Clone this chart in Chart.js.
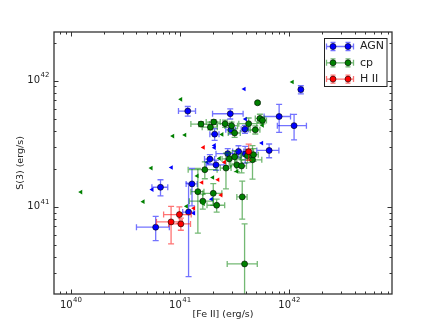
<!DOCTYPE html>
<html><head><meta charset="utf-8">
<script src="https://cdn.jsdelivr.net/npm/chart.js@4/dist/chart.umd.min.js"></script>
<style>html,body{margin:0;padding:0;background:#fff}canvas{display:block}</style>
</head><body>
<canvas id="c" width="436" height="327"></canvas>
<script>
// ---- data ----
const seriesNames = ['AGN', 'cp', 'H II'];
const xTitle = '[Fe II] (erg/s)';
const yTitle = 'S(3) (erg/s)';
const xTickExps = [40, 41, 42];
const yTickExps = [41, 42];

// AGN detections
const agnX  = [1.28e42, 1.18e41, 2.89e41, 8.1e41, 1.11e42, 2.93e41, 3.94e41, 2.08e41, 6.56e41, 3.44e41, 2.74e41, 3.96e41, 1.88e41, 2.14e41, 1.29e41, 6.64e40, 6.0e40, 1.2e41];
const agnY  = [8.5e41, 5.74e41, 5.47e41, 5.2e41, 4.4e41, 4.08e41, 4.13e41, 3.77e41, 2.8e41, 2.75e41, 2.64e41, 2.62e41, 2.39e41, 2.15e41, 1.52e41, 1.43e41, 6.9e40, 9.1e40];
const agnDx = [5e40, 2.1e40, 9e40, 2.2e41, 3.3e41, 3e40, 3e40, 2e40, 1.5e41, 4e40, 6e40, 3e40, 2e40, 4e40, 1.5e40, 1.1e40, 2.0e40, 1.4e40];
const agnDy = [6.5e40, 5e40, 5e40, 1.3e41, 1.0e41, 3e40, 3e40, 4e40, 3.5e40, 3e40, 2.5e40, 4e40, 2e40, 2e40, 5e40, 2.1e40, 1.5e40, 6.3e40];
// AGN upper limits
const agnLimX = [3.88e41, 3.99e41, 2.07e41, 2.07e41, 5.62e41, 8.36e40, 5.57e40, 1.95e41, 1.34e41, 1.78e41];
const agnLimY = [8.59e41, 4.96e41, 3.07e41, 2.94e41, 3.2e41, 2.05e41, 1.37e41, 1.15e41, 8.91e40, 2.26e41];

// cp detections
const cpX  = [5.14e41, 1.56e41, 2.04e41, 1.9e41, 2.59e41, 2.97e41, 3.17e41, 4.26e41, 4.9e41, 5.4e41, 5.7e41, 1.69e41, 2.64e41, 2.83e41, 3.17e41, 3.32e41, 3.67e41, 4.16e41, 4.62e41, 4.72e41, 1.46e41, 2.02e41, 1.62e41, 2.17e41, 3.72e41, 3.91e41];
const cpY  = [6.68e41, 4.53e41, 4.7e41, 4.28e41, 4.56e41, 4.4e41, 3.85e41, 4.56e41, 4.08e41, 5.02e41, 4.84e41, 1.97e41, 2.03e41, 2.4e41, 2.49e41, 2.15e41, 2.11e41, 2.54e41, 2.36e41, 2.59e41, 1.32e41, 1.28e41, 1.11e41, 1.03e41, 1.2e41, 3.53e40];
const cpDx = [1e40, 3e40, 3e40, 3e40, 4e40, 4e40, 4e40, 8e40, 5e40, 5e40, 5e40, 5e40, 3e40, 4e40, 4e40, 4e40, 4e40, 5e40, 1e41, 5e40, 2e40, 4e40, 4e40, 4e40, 4e40, 1.2e41];
const cpDy = [1.5e40, 2e40, 2e40, 2e40, 3e40, 3e40, 3e40, 5e40, 3e40, 4e40, 3e40, 3e40, 6.4e40, 3e40, 3e40, 2.5e40, 2.5e40, 3e40, 7e40, 3e40, 7e40, 2.5e40, 1.5e40, 1.2e40, 4e40, 3.8e40];
// cp upper limits
const cpLimX = [1.07e42, 1.02e41, 1.11e41, 8.61e40, 5.46e40, 1.24e40, 4.61e40, 1.15e41, 2.43e41, 5.7e41, 1.44e41, 2.0e41, 2.3e41, 3.33e41, 1.64e41];
const cpLimY = [9.76e41, 7.11e41, 3.71e41, 3.64e41, 2.03e41, 1.31e41, 1.1e41, 1.01e41, 3.75e41, 4.43e41, 1.76e41, 1.71e41, 2.42e41, 1.91e41, 1.06e41];

// H II detections
const hiiX  = [4.26e41, 9.89e40, 8.3e40, 1.02e41];
const hiiY  = [2.74e41, 8.69e40, 7.6e40, 7.33e40];
const hiiDx = [2e40, 2.8e40, 2.2e40, 2.3e40];
const hiiDy = [4e40, 1.3e40, 2.5e40, 8e39];
// H II upper limits
const hiiLimX = [1.64e41, 1.59e41, 2.23e41, 2.38e41, 1.34e41, 2.56e41];
const hiiLimY = [2.96e41, 1.56e41, 1.64e41, 1.24e41, 9.75e40, 2.26e41];

const xMin = 7.03e39, xMax = 8.75e42;
const yMin = 2.04e40, yMax = 2.43e42;

// ---- build ----
const pts = (xs, ys) => xs.map((v, i) => ({x: v, y: ys[i]}));
const COL = {AGN: [0,0,255], cp: [0,128,0], HII: [255,0,0]};
const rgba = (c, a) => `rgba(${c[0]},${c[1]},${c[2]},${a})`;

function detDS(label, xs, ys, dx, dy, c, order) {
  return {label, data: pts(xs, ys), errX: dx, errY: dy, errColor: rgba(c, 0.55),
    pointStyle: 'circle', pointRadius: 3.0, backgroundColor: rgba(c, 1),
    borderColor: 'rgba(0,0,0,0.85)', borderWidth: 0.7, order};
}
function limDS(label, xs, ys, c, order) {
  return {label, data: pts(xs, ys), pointStyle: 'triangle', rotation: -90,
    pointRadius: 2.7, backgroundColor: rgba(c, 1), borderColor: rgba(c, 1), borderWidth: 0, order};
}

const datasets = [
  detDS('AGN', agnX, agnY, agnDx, agnDy, COL.AGN, 6),
  limDS('AGN lim', agnLimX, agnLimY, COL.AGN, 5),
  detDS('cp', cpX, cpY, cpDx, cpDy, COL.cp, 4),
  limDS('cp lim', cpLimX, cpLimY, COL.cp, 3),
  detDS('H II', hiiX, hiiY, hiiDx, hiiDy, COL.HII, 2),
  limDS('H II lim', hiiLimX, hiiLimY, COL.HII, 1),
];

const FONT = '"DejaVu Sans", sans-serif';
const TXT = '#222';

const errorBars = {
  id: 'errorBars',
  beforeDatasetDraw(chart, args) {
    const ds = chart.data.datasets[args.index];
    if (!ds.errX) return;
    const {ctx, chartArea: a, scales: {x, y}} = chart;
    ctx.save();
    ctx.beginPath(); ctx.rect(a.left, a.top, a.right - a.left, a.bottom - a.top); ctx.clip();
    ctx.strokeStyle = ds.errColor; ctx.lineWidth = 1.3;
    const cap = 3;
    ds.data.forEach((p, i) => {
      const px = x.getPixelForValue(p.x), py = y.getPixelForValue(p.y);
      const dx = ds.errX[i], dy = ds.errY[i];
      const xl = p.x - dx > 0 ? x.getPixelForValue(p.x - dx) : a.left - 10;
      const xr = x.getPixelForValue(p.x + dx);
      const yt = y.getPixelForValue(p.y + dy);
      const yb = p.y - dy > 0 ? y.getPixelForValue(p.y - dy) : a.bottom + 10;
      ctx.beginPath();
      ctx.moveTo(xl, py); ctx.lineTo(xr, py);
      ctx.moveTo(px, yt); ctx.lineTo(px, yb);
      ctx.moveTo(xl, py - cap); ctx.lineTo(xl, py + cap);
      ctx.moveTo(xr, py - cap); ctx.lineTo(xr, py + cap);
      ctx.moveTo(px - cap, yt); ctx.lineTo(px + cap, yt);
      ctx.moveTo(px - cap, yb); ctx.lineTo(px + cap, yb);
      ctx.stroke();
    });
    ctx.restore();
  }
};

function powLabel(ctx, exp, cx, cy, align) {
  ctx.font = `10px ${FONT}`;
  const wb = ctx.measureText('10').width;
  ctx.font = `7px ${FONT}`;
  const we = ctx.measureText(String(exp)).width;
  const w = wb + we;
  let left = align === 'center' ? cx - w / 2 : cx - w;
  ctx.textBaseline = 'middle'; ctx.textAlign = 'left';
  ctx.font = `10px ${FONT}`; ctx.fillText('10', left, cy);
  ctx.font = `7px ${FONT}`; ctx.fillText(String(exp), left + wb + 0.5, cy - 5);
}

const frame = {
  id: 'frame',
  afterDraw(chart) {
    const {ctx, chartArea: a, scales: {x, y}} = chart;
    ctx.save();
    ctx.strokeStyle = '#333'; ctx.lineWidth = 1;
    ctx.beginPath();
    for (let e = 39; e <= 43; e++) for (let m = 1; m < 10; m++) {
      const v = m * Math.pow(10, e);
      const L = m === 1 ? 4.5 : 2.5;
      if (v >= xMin && v <= xMax) {
        const p = Math.round(x.getPixelForValue(v)) + 0.5;
        ctx.moveTo(p, a.bottom); ctx.lineTo(p, a.bottom - L);
        ctx.moveTo(p, a.top); ctx.lineTo(p, a.top + L);
      }
      if (v >= yMin && v <= yMax) {
        const p = Math.round(y.getPixelForValue(v)) + 0.5;
        ctx.moveTo(a.left, p); ctx.lineTo(a.left + L, p);
        ctx.moveTo(a.right, p); ctx.lineTo(a.right - L, p);
      }
    }
    ctx.stroke();
    ctx.lineWidth = 1.3;
    ctx.strokeRect(a.left, a.top, a.right - a.left, a.bottom - a.top);
    ctx.fillStyle = TXT;
    xTickExps.forEach(e => powLabel(ctx, e, x.getPixelForValue(Math.pow(10, e)), a.bottom + 11, 'center'));
    yTickExps.forEach(e => powLabel(ctx, e, a.left - 5, y.getPixelForValue(Math.pow(10, e)), 'right'));
    ctx.font = `9.5px ${FONT}`; ctx.textAlign = 'center'; ctx.textBaseline = 'middle';
    ctx.fillText(xTitle, (a.left + a.right) / 2, 315);
    ctx.save(); ctx.translate(21, (a.top + a.bottom) / 2); ctx.rotate(-Math.PI / 2);
    ctx.fillText(yTitle, 0, 0); ctx.restore();
    // legend
    const bx = 324.5, by = 38.5, bw = 62.5, bh = 48;
    ctx.fillStyle = '#fff'; ctx.fillRect(bx, by, bw, bh);
    ctx.strokeStyle = '#222'; ctx.lineWidth = 1; ctx.strokeRect(bx, by, bw, bh);
    const cols = [COL.AGN, COL.cp, COL.HII];
    seriesNames.forEach((name, i) => {
      const ry = 46.5 + i * 16.3, c = cols[i];
      ctx.strokeStyle = rgba(c, 0.55); ctx.lineWidth = 1.3;
      ctx.beginPath();
      ctx.moveTo(326.5, ry); ctx.lineTo(353.5, ry);
      ctx.moveTo(326.5, ry - 3); ctx.lineTo(326.5, ry + 3);
      ctx.moveTo(353.5, ry - 3); ctx.lineTo(353.5, ry + 3);
      [333, 348].forEach(mx => {
        ctx.moveTo(mx, ry - 4); ctx.lineTo(mx, ry + 4);
        ctx.moveTo(mx - 2.5, ry - 4); ctx.lineTo(mx + 2.5, ry - 4);
        ctx.moveTo(mx - 2.5, ry + 4); ctx.lineTo(mx + 2.5, ry + 4);
      });
      ctx.stroke();
      [333, 348].forEach(mx => {
        ctx.beginPath(); ctx.arc(mx, ry, 3.0, 0, Math.PI * 2);
        ctx.fillStyle = rgba(c, 1); ctx.fill();
        ctx.strokeStyle = 'rgba(0,0,0,0.85)'; ctx.lineWidth = 0.7; ctx.stroke();
      });
      ctx.fillStyle = TXT; ctx.font = `11px ${FONT}`; ctx.textAlign = 'left'; ctx.textBaseline = 'middle';
      ctx.fillText(name, 360, ry);
    });
    ctx.restore();
  }
};

new Chart(document.getElementById('c'), {
  type: 'scatter',
  data: {datasets},
  options: {
    responsive: false, animation: false, devicePixelRatio: 1, events: [],
    layout: {padding: {left: 54, right: 44, top: 32, bottom: 33}},
    plugins: {legend: {display: false}, tooltip: {enabled: false}},
    scales: {
      x: {type: 'logarithmic', min: xMin, max: xMax, display: false},
      y: {type: 'logarithmic', min: yMin, max: yMax, display: false}
    }
  },
  plugins: [errorBars, frame]
});
</script>
</body></html>
